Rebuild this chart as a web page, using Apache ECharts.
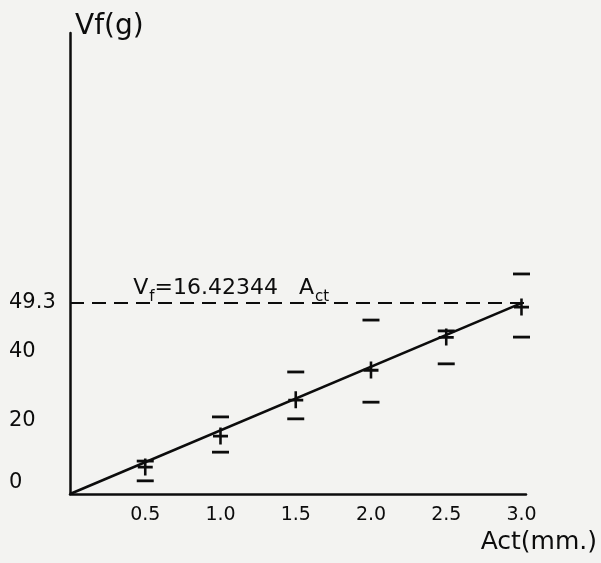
<!DOCTYPE html>
<html>
<head>
<meta charset="utf-8">
<script src="https://cdn.jsdelivr.net/npm/echarts@6/dist/echarts.min.js"></script>
<style>html,body{margin:0;padding:0;background:#f3f3f1;}#c{width:601px;height:563px;}</style>
</head>
<body>
<div id="c"></div>
<script>
// ---- data ----
var act = [0.5, 1.0, 1.5, 2.0, 2.5, 3.0];
var vfMean = [7.0, 15.0, 24.3, 32.0, 40.5, 48.3];
var vfUpper = [8.5, 19.9, 31.5, 44.9, 42.1, 56.8];
var vfLower = [3.4, 10.8, 19.4, 23.7, 33.6, 40.5];
var fitX = [0, 3.0];
var fitY = [0, 49.27];
var refLevel = 49.3;
var xTicks = [0.5, 1.0, 1.5, 2.0, 2.5, 3.0];
var yTicks = [0, 20, 40, 49.3];

function pairs(xs, ys) { return xs.map(function (x, i) { return [x, ys[i]]; }); }

var FONT = 'DejaVu Sans';
var INK = '#0c0c0c';
var chart = echarts.init(document.getElementById('c'), null, {renderer: 'canvas'});
chart.setOption({
  backgroundColor: '#f3f3f1',
  animation: false,
  grid: {left: 70, right: 75, top: 33, bottom: 69, containLabel: false, outerBoundsMode: 'none'},
  xAxis: {
    type: 'value', min: 0, max: 3.03,
    name: 'Act(mm.)', nameLocation: 'end', nameGap: 71,
    nameTextStyle: {fontFamily: FONT, fontSize: 25, color: INK, align: 'right', verticalAlign: 'top', padding: [36, 0, 0, 0]},
    axisLine: {lineStyle: {color: INK, width: 2.5}},
    axisTick: {show: false},
    splitLine: {show: false},
    axisLabel: {customValues: xTicks, fontFamily: FONT, fontSize: 19, color: INK, margin: 12,
      formatter: function (v) { return v.toFixed(1); }}
  },
  yAxis: {
    type: 'value', min: 0, max: 119,
    name: 'Vf(g)', nameLocation: 'end', nameGap: 0,
    nameTextStyle: {fontFamily: FONT, fontSize: 28, color: INK, align: 'left', verticalAlign: 'bottom', padding: [0, 0, -8, 5]},
    axisLine: {lineStyle: {color: INK, width: 2.5}},
    axisTick: {show: false},
    splitLine: {show: false},
    axisLabel: {customValues: yTicks, fontFamily: FONT, fontSize: 21, color: INK, align: 'left', margin: 61,
      formatter: function (v) {
        if (v === 0) return '{up|0}';
        if (v === 40) return '{down|40}';
        if (v === 20) return '{dn2|20}';
        return String(v);
      },
      rich: {
        up: {fontFamily: FONT, fontSize: 21, color: INK, padding: [0, 0, 22, 0]},
        down: {fontFamily: FONT, fontSize: 21, color: INK, padding: [26, 0, 0, 0]},
        dn2: {fontFamily: FONT, fontSize: 21, color: INK, padding: [8, 0, 0, 0]}
      }
    }
  },
  series: [
    {
      type: 'line', data: pairs(fitX, fitY), symbol: 'none',
      lineStyle: {color: INK, width: 2.6},
      markLine: {
        silent: true, symbol: 'none', label: {show: false},
        lineStyle: {color: INK, width: 2, type: [14, 8]},
        data: [[{coord: [0, refLevel]}, {coord: [3.03, refLevel]}]]
      }
    },
    {
      type: 'scatter', data: pairs(act, vfMean),
      symbol: 'path://M0,6H14V8.4H0Z M5.8,0H8.2V14H5.8Z', symbolSize: [15, 17],
      itemStyle: {color: INK, opacity: 1}
    },
    {
      type: 'scatter', data: pairs(act, vfUpper),
      symbol: 'rect', symbolSize: [17, 2.8], itemStyle: {color: INK, opacity: 1}
    },
    {
      type: 'scatter', data: pairs(act, vfLower),
      symbol: 'rect', symbolSize: [17, 2.8], itemStyle: {color: INK, opacity: 1}
    }
  ]
});

var p = chart.convertToPixel({gridIndex: 0}, [0.42, refLevel]);
chart.setOption({
  graphic: [{
    type: 'text', x: p[0], y: p[1] - 4,
    style: {
      text: '{m|V}{s|f}{m|=16.42344   A}{s|ct}',
      textVerticalAlign: 'bottom', verticalAlign: 'bottom',
      fill: INK,
      rich: {
        m: {fontFamily: FONT, fontSize: 22, fill: INK, lineHeight: 24, verticalAlign: 'bottom'},
        s: {fontFamily: FONT, fontSize: 15, fill: INK, lineHeight: 24, verticalAlign: 'bottom', padding: [0, 0, -6, 1]}
      }
    }
  }]
});
</script>
</body>
</html>
